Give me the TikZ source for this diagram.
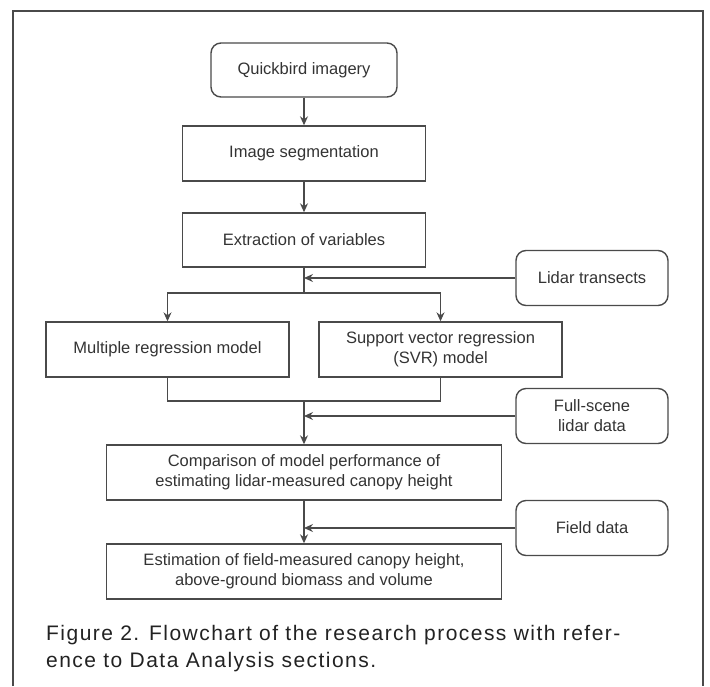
\documentclass[tikz,border=0pt]{standalone}
\usepackage{fontspec}
\setmainfont{Liberation Sans}
\newfontfamily\capfont[LetterSpace=7]{Liberation Sans}
\usetikzlibrary{arrows.meta}
\definecolor{linec}{HTML}{4A4A4A}
\definecolor{textc}{HTML}{333333}
\definecolor{capc}{HTML}{222222}
\tikzset{
  box/.style={draw=linec, line width=1.4pt, minimum height=55pt, align=center,
    text=textc, font=\fontsize{16.5}{20}\selectfont, inner sep=2pt},
  rbox/.style={box, rounded corners=10pt},
  arr/.style={draw=linec, line width=1.3pt, -{Stealth[length=9pt,width=8pt,inset=3pt]}},
  conn/.style={draw=linec, line width=1.3pt}
}
\begin{document}
\begin{tikzpicture}[x=1pt,y=-1pt]
\useasboundingbox (0,0) rectangle (710,686);
\draw[linec, line width=1.5pt] (13,686) -- (13,11) -- (703,11) -- (703,686);

\node[rbox, minimum width=186pt, minimum height=54pt] (Q) at (304,70) {Quickbird imagery};
\node[box, minimum width=243pt] (IS) at (304,153.5) {Image segmentation};
\node[box, minimum width=243pt, minimum height=54pt] (EX) at (304,240) {Extraction of variables};
\node[rbox, minimum width=152pt] (LT) at (592,278) {Lidar transects};
\node[box, minimum width=243pt] (MR) at (167.5,349.5) {Multiple regression model};
\node[box, minimum width=243pt] (SVR) at (440.5,349.5) {Support vector regression\\(SVR) model};
\node[rbox, minimum width=152pt] (FS) at (592,416) {Full-scene\\lidar data};
\node[box, minimum width=395pt] (CMP) at (304,472.5) {Comparison of model performance of\\estimating lidar-measured canopy height};
\node[rbox, minimum width=152pt] (FD) at (592,528) {Field data};
\node[box, minimum width=395pt] (EST) at (304,571.5) {Estimation of field-measured canopy height,\\above-ground biomass and volume};

\coordinate (j1) at (304,293);
\coordinate (j2) at (304,401);

\draw[arr] (Q) -- (IS);
\draw[arr] (IS) -- (EX);
\draw[conn] (EX.south) -- (j1);
\draw[arr] (LT.west) -- (LT.west -| EX.south);
\draw[arr] (j1) -| (MR);
\draw[arr] (j1) -| (SVR);
\draw[conn] (MR.south) |- (j2) -| (SVR.south);
\draw[arr] (j2) -- (CMP.north);
\draw[arr] (FS.west) -- (FS.west -| j2);
\draw[arr] (CMP) -- (EST);
\draw[arr] (FD.west) -- (FD.west -| CMP.south);

\node[anchor=base west, text=capc, font=\capfont\fontsize{21}{27}\selectfont, inner sep=0pt] (cap1) at (46,640) {Figure 2. Flowchart of the research process with refer-};
\node[anchor=base west, text=capc, font=\capfont\fontsize{21}{27}\selectfont, inner sep=0pt] (cap2) at (46,667) {ence to Data Analysis sections.};
\end{tikzpicture}
\end{document}
